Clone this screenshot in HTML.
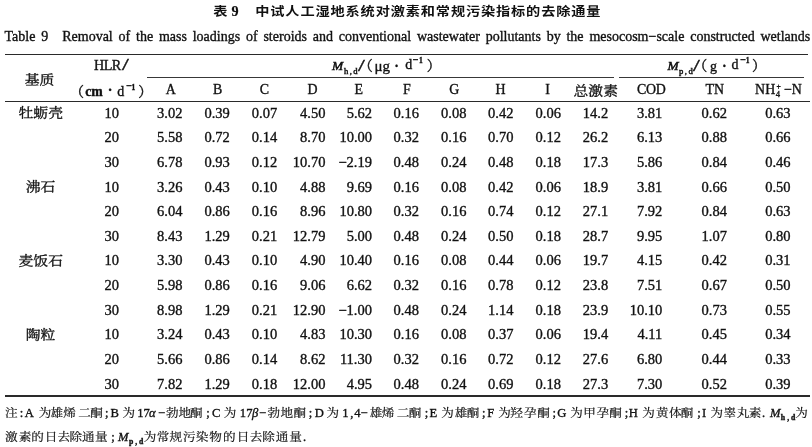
<!DOCTYPE html>
<html><head><meta charset="utf-8"><title>Table 9</title>
<style>
html,body{margin:0;padding:0;background:#fff;}
body{width:812px;height:447px;position:relative;overflow:hidden;color:#111;}
.t{position:absolute;white-space:nowrap;-webkit-text-stroke:0.35px #111;}
.r{position:absolute;}
sub,sup{font-size:62%;line-height:0;position:relative;vertical-align:baseline;}
sub{bottom:-0.35em;}
sup{top:-0.55em;}
</style></head>
<body>
<div class="t" style="left:213.37px;top:2.79px;font-size:14.2px;line-height:17.04px;font-family:'Liberation Serif', 'Noto Sans CJK SC', sans-serif;"><span style="font-family:'Liberation Sans','Noto Sans CJK SC',sans-serif;font-weight:bold;display:inline-block;transform:scaleY(0.86);transform-origin:0 75%;-webkit-text-stroke:0">表</span></div>
<div class="t" style="left:231.44px;top:2.79px;font-size:14.2px;line-height:17.04px;font-family:'Liberation Serif', 'Noto Serif CJK SC', serif;"><b style="-webkit-text-stroke:0.2px #111">9</b></div>
<div class="t" style="left:255.28px;top:2.79px;font-size:14.2px;line-height:17.04px;font-family:'Liberation Serif', 'Noto Sans CJK SC', sans-serif;"><span style="font-family:'Liberation Sans','Noto Sans CJK SC',sans-serif;font-weight:bold;display:inline-block;transform:scaleY(0.86);transform-origin:0 75%;-webkit-text-stroke:0;letter-spacing:0.86px">中试人工湿地系统对激素和常规污染指标的去除通量</span></div>
<div class="t" style="left:4.50px;top:28.58px;width:900px;text-align:left;font-size:14.0px;line-height:16.80px;font-family:'Liberation Serif', 'Noto Serif CJK SC', serif;word-spacing:2.3px">Table 9<span style="display:inline-block;width:14px"></span>Removal of the mass loadings of steroids and conventional wastewater pollutants by the mesocosm&#8722;scale constructed wetlands</div>
<div class="r" style="left:5.3px;top:53.50px;width:802.70px;height:1.4px;background:#2a2a2a"></div>
<div class="r" style="left:147px;top:76.85px;width:467.20px;height:1.5px;background:#383838"></div>
<div class="r" style="left:619.1px;top:76.85px;width:184.90px;height:1.5px;background:#383838"></div>
<div class="r" style="left:5.3px;top:100.60px;width:805.00px;height:1.4px;background:#2a2a2a"></div>
<div class="r" style="left:5.3px;top:395.40px;width:804.70px;height:1.4px;background:#2a2a2a"></div>
<div class="t" style="left:25.02px;top:71.01px;font-size:14.5px;line-height:17.40px;font-family:'Liberation Serif', 'Noto Serif CJK SC', serif;"><span style="display:inline-block;transform:scale(1.02,0.88);transform-origin:50% 62%">基质</span></div>
<div class="t" style="left:93.91px;top:57.09px;font-size:14.2px;line-height:17.04px;font-family:'Liberation Serif', 'Noto Serif CJK SC', serif;letter-spacing:-0.5px">HLR</div>
<div class="t" style="left:122.05px;top:55.22px;font-size:16.4px;line-height:19.68px;font-family:'Liberation Serif', 'Noto Serif CJK SC', serif;"><span style="display:inline-block;transform:scaleX(1.5);transform-origin:0 100%">/</span></div>
<div class="t" style="left:70.02px;top:84.47px;font-size:14px;line-height:16.80px;font-family:'Liberation Serif', 'Noto Serif CJK SC', serif;">（</div>
<div class="t" style="left:85.21px;top:83.86px;font-size:13.8px;line-height:16.56px;font-family:'Liberation Serif', 'Noto Serif CJK SC', serif;"><b>cm</b></div>
<div class="t" style="left:107.65px;top:83.17px;font-size:14px;line-height:16.80px;font-family:'Liberation Serif', 'Noto Serif CJK SC', serif;"><b>·</b></div>
<div class="t" style="left:117.33px;top:83.67px;font-size:14px;line-height:16.80px;font-family:'Liberation Serif', 'Noto Serif CJK SC', serif;">d</div>
<div class="t" style="left:126.32px;top:80.42px;font-size:10px;line-height:12.00px;font-family:'Liberation Serif', 'Noto Serif CJK SC', serif;"><b>−</b></div>
<div class="t" style="left:131.62px;top:82.57px;font-size:7.5px;line-height:9.00px;font-family:'Liberation Serif', 'Noto Serif CJK SC', serif;"><b>1</b></div>
<div class="t" style="left:138.14px;top:84.47px;font-size:14px;line-height:16.80px;font-family:'Liberation Serif', 'Noto Serif CJK SC', serif;">）</div>
<div class="t" style="left:332.03px;top:57.74px;font-size:13.4px;line-height:16.08px;font-family:'Liberation Serif', 'Noto Serif CJK SC', serif;"><i style="-webkit-text-stroke:0.55px #111">M</i></div>
<div class="t" style="left:343.88px;top:66.34px;font-size:8.6px;line-height:10.32px;font-family:'Liberation Serif', 'Noto Serif CJK SC', serif;letter-spacing:1.5px;-webkit-text-stroke:0.45px #111">h,d</div>
<div class="t" style="left:358.05px;top:55.82px;font-size:16.4px;line-height:19.68px;font-family:'Liberation Serif', 'Noto Serif CJK SC', serif;"><span style="display:inline-block;transform:scaleX(1.5);transform-origin:0 100%">/</span></div>
<div class="t" style="left:358.72px;top:58.27px;font-size:14px;line-height:16.80px;font-family:'Liberation Serif', 'Noto Serif CJK SC', serif;">（</div>
<div class="t" style="left:374.40px;top:57.14px;font-size:15px;line-height:18.00px;font-family:'Liberation Serif', 'Noto Serif CJK SC', serif;">μg</div>
<div class="t" style="left:394.15px;top:59.27px;font-size:14px;line-height:16.80px;font-family:'Liberation Serif', 'Noto Serif CJK SC', serif;"><b>·</b></div>
<div class="t" style="left:405.23px;top:57.47px;font-size:14px;line-height:16.80px;font-family:'Liberation Serif', 'Noto Serif CJK SC', serif;">d</div>
<div class="t" style="left:412.82px;top:54.22px;font-size:10px;line-height:12.00px;font-family:'Liberation Serif', 'Noto Serif CJK SC', serif;"><b>−</b></div>
<div class="t" style="left:418.92px;top:56.37px;font-size:7.5px;line-height:9.00px;font-family:'Liberation Serif', 'Noto Serif CJK SC', serif;"><b>1</b></div>
<div class="t" style="left:426.64px;top:58.27px;font-size:14px;line-height:16.80px;font-family:'Liberation Serif', 'Noto Serif CJK SC', serif;">）</div>
<div class="t" style="left:667.43px;top:57.74px;font-size:13.4px;line-height:16.08px;font-family:'Liberation Serif', 'Noto Serif CJK SC', serif;"><i style="-webkit-text-stroke:0.55px #111">M</i></div>
<div class="t" style="left:678.95px;top:66.34px;font-size:8.6px;line-height:10.32px;font-family:'Liberation Serif', 'Noto Serif CJK SC', serif;letter-spacing:1.5px;-webkit-text-stroke:0.45px #111">p,d</div>
<div class="t" style="left:693.05px;top:55.82px;font-size:16.4px;line-height:19.68px;font-family:'Liberation Serif', 'Noto Serif CJK SC', serif;"><span style="display:inline-block;transform:scaleX(1.5);transform-origin:0 100%">/</span></div>
<div class="t" style="left:693.32px;top:58.27px;font-size:14px;line-height:16.80px;font-family:'Liberation Serif', 'Noto Serif CJK SC', serif;">（</div>
<div class="t" style="left:709.96px;top:58.88px;font-size:14px;line-height:16.80px;font-family:'Liberation Serif', 'Noto Serif CJK SC', serif;">g</div>
<div class="t" style="left:722.05px;top:59.27px;font-size:14px;line-height:16.80px;font-family:'Liberation Serif', 'Noto Serif CJK SC', serif;"><b>·</b></div>
<div class="t" style="left:731.43px;top:57.47px;font-size:14px;line-height:16.80px;font-family:'Liberation Serif', 'Noto Serif CJK SC', serif;">d</div>
<div class="t" style="left:740.32px;top:54.22px;font-size:10px;line-height:12.00px;font-family:'Liberation Serif', 'Noto Serif CJK SC', serif;"><b>−</b></div>
<div class="t" style="left:745.72px;top:56.37px;font-size:7.5px;line-height:9.00px;font-family:'Liberation Serif', 'Noto Serif CJK SC', serif;"><b>1</b></div>
<div class="t" style="left:751.94px;top:58.27px;font-size:14px;line-height:16.80px;font-family:'Liberation Serif', 'Noto Serif CJK SC', serif;">）</div>
<div class="t" style="left:165.76px;top:82.27px;font-size:13.9px;line-height:16.68px;font-family:'Liberation Serif', 'Noto Serif CJK SC', serif;">A</div>
<div class="t" style="left:213.00px;top:82.27px;font-size:13.9px;line-height:16.68px;font-family:'Liberation Serif', 'Noto Serif CJK SC', serif;">B</div>
<div class="t" style="left:259.64px;top:82.27px;font-size:13.9px;line-height:16.68px;font-family:'Liberation Serif', 'Noto Serif CJK SC', serif;">C</div>
<div class="t" style="left:307.60px;top:82.27px;font-size:13.9px;line-height:16.68px;font-family:'Liberation Serif', 'Noto Serif CJK SC', serif;">D</div>
<div class="t" style="left:354.60px;top:82.27px;font-size:13.9px;line-height:16.68px;font-family:'Liberation Serif', 'Noto Serif CJK SC', serif;">E</div>
<div class="t" style="left:402.98px;top:82.27px;font-size:13.9px;line-height:16.68px;font-family:'Liberation Serif', 'Noto Serif CJK SC', serif;">F</div>
<div class="t" style="left:449.34px;top:82.27px;font-size:13.9px;line-height:16.68px;font-family:'Liberation Serif', 'Noto Serif CJK SC', serif;">G</div>
<div class="t" style="left:495.61px;top:82.27px;font-size:13.9px;line-height:16.68px;font-family:'Liberation Serif', 'Noto Serif CJK SC', serif;">H</div>
<div class="t" style="left:545.20px;top:82.27px;font-size:13.9px;line-height:16.68px;font-family:'Liberation Serif', 'Noto Serif CJK SC', serif;">I</div>
<div class="t" style="left:573.50px;top:81.51px;font-size:14.5px;line-height:17.40px;font-family:'Liberation Serif', 'Noto Serif CJK SC', serif;"><span style="display:inline-block;transform:scale(1.02,0.88);transform-origin:50% 62%">总激素</span></div>
<div class="t" style="left:637.04px;top:82.27px;font-size:13.9px;line-height:16.68px;font-family:'Liberation Serif', 'Noto Serif CJK SC', serif;letter-spacing:-0.3px">COD</div>
<div class="t" style="left:705.60px;top:82.27px;font-size:13.9px;line-height:16.68px;font-family:'Liberation Serif', 'Noto Serif CJK SC', serif;">TN</div>
<div class="t" style="left:755.10px;top:82.27px;font-size:13.9px;line-height:16.68px;font-family:'Liberation Serif', 'Noto Serif CJK SC', serif;">NH</div>
<div class="t" style="left:775.66px;top:89.04px;font-size:8.6px;line-height:10.32px;font-family:'Liberation Serif', 'Noto Serif CJK SC', serif;">4</div>
<div class="t" style="left:776.44px;top:81.58px;font-size:7.6px;line-height:9.12px;font-family:'Liberation Serif', 'Noto Serif CJK SC', serif;">+</div>
<div class="t" style="left:783.89px;top:82.27px;font-size:13.9px;line-height:16.68px;font-family:'Liberation Serif', 'Noto Serif CJK SC', serif;">−N</div>
<div class="t" style="left:-59.50px;top:104.41px;width:200px;text-align:center;font-size:14.5px;line-height:17.40px;font-family:'Liberation Serif', 'Noto Serif CJK SC', serif;"><span style="display:inline-block;transform:scale(1.02,0.88);transform-origin:50% 62%">牡蛎壳</span></div>
<div class="t" style="left:11.70px;top:104.61px;width:200px;text-align:center;font-size:14.5px;line-height:17.40px;font-family:'Liberation Serif', 'Noto Serif CJK SC', serif;">10</div>
<div class="t" style="left:69.80px;top:104.61px;width:200px;text-align:center;font-size:14.5px;line-height:17.40px;font-family:'Liberation Serif', 'Noto Serif CJK SC', serif;">3.02</div>
<div class="t" style="left:117.10px;top:104.61px;width:200px;text-align:center;font-size:14.5px;line-height:17.40px;font-family:'Liberation Serif', 'Noto Serif CJK SC', serif;">0.39</div>
<div class="t" style="left:164.50px;top:104.61px;width:200px;text-align:center;font-size:14.5px;line-height:17.40px;font-family:'Liberation Serif', 'Noto Serif CJK SC', serif;">0.07</div>
<div class="t" style="left:125.40px;top:104.61px;width:200px;text-align:right;font-size:14.5px;line-height:17.40px;font-family:'Liberation Serif', 'Noto Serif CJK SC', serif;">4.50</div>
<div class="t" style="left:172.00px;top:104.61px;width:200px;text-align:right;font-size:14.5px;line-height:17.40px;font-family:'Liberation Serif', 'Noto Serif CJK SC', serif;">5.62</div>
<div class="t" style="left:306.20px;top:104.61px;width:200px;text-align:center;font-size:14.5px;line-height:17.40px;font-family:'Liberation Serif', 'Noto Serif CJK SC', serif;">0.16</div>
<div class="t" style="left:353.70px;top:104.61px;width:200px;text-align:center;font-size:14.5px;line-height:17.40px;font-family:'Liberation Serif', 'Noto Serif CJK SC', serif;">0.08</div>
<div class="t" style="left:400.70px;top:104.61px;width:200px;text-align:center;font-size:14.5px;line-height:17.40px;font-family:'Liberation Serif', 'Noto Serif CJK SC', serif;">0.42</div>
<div class="t" style="left:448.20px;top:104.61px;width:200px;text-align:center;font-size:14.5px;line-height:17.40px;font-family:'Liberation Serif', 'Noto Serif CJK SC', serif;">0.06</div>
<div class="t" style="left:495.50px;top:104.61px;width:200px;text-align:center;font-size:14.5px;line-height:17.40px;font-family:'Liberation Serif', 'Noto Serif CJK SC', serif;">14.2</div>
<div class="t" style="left:462.30px;top:104.61px;width:200px;text-align:right;font-size:14.5px;line-height:17.40px;font-family:'Liberation Serif', 'Noto Serif CJK SC', serif;">3.81</div>
<div class="t" style="left:614.20px;top:104.61px;width:200px;text-align:center;font-size:14.5px;line-height:17.40px;font-family:'Liberation Serif', 'Noto Serif CJK SC', serif;">0.62</div>
<div class="t" style="left:677.90px;top:104.61px;width:200px;text-align:center;font-size:14.5px;line-height:17.40px;font-family:'Liberation Serif', 'Noto Serif CJK SC', serif;">0.63</div>
<div class="t" style="left:11.70px;top:129.24px;width:200px;text-align:center;font-size:14.5px;line-height:17.40px;font-family:'Liberation Serif', 'Noto Serif CJK SC', serif;">20</div>
<div class="t" style="left:69.80px;top:129.24px;width:200px;text-align:center;font-size:14.5px;line-height:17.40px;font-family:'Liberation Serif', 'Noto Serif CJK SC', serif;">5.58</div>
<div class="t" style="left:117.10px;top:129.24px;width:200px;text-align:center;font-size:14.5px;line-height:17.40px;font-family:'Liberation Serif', 'Noto Serif CJK SC', serif;">0.72</div>
<div class="t" style="left:164.50px;top:129.24px;width:200px;text-align:center;font-size:14.5px;line-height:17.40px;font-family:'Liberation Serif', 'Noto Serif CJK SC', serif;">0.14</div>
<div class="t" style="left:125.40px;top:129.24px;width:200px;text-align:right;font-size:14.5px;line-height:17.40px;font-family:'Liberation Serif', 'Noto Serif CJK SC', serif;">8.70</div>
<div class="t" style="left:172.00px;top:129.24px;width:200px;text-align:right;font-size:14.5px;line-height:17.40px;font-family:'Liberation Serif', 'Noto Serif CJK SC', serif;">10.00</div>
<div class="t" style="left:306.20px;top:129.24px;width:200px;text-align:center;font-size:14.5px;line-height:17.40px;font-family:'Liberation Serif', 'Noto Serif CJK SC', serif;">0.32</div>
<div class="t" style="left:353.70px;top:129.24px;width:200px;text-align:center;font-size:14.5px;line-height:17.40px;font-family:'Liberation Serif', 'Noto Serif CJK SC', serif;">0.16</div>
<div class="t" style="left:400.70px;top:129.24px;width:200px;text-align:center;font-size:14.5px;line-height:17.40px;font-family:'Liberation Serif', 'Noto Serif CJK SC', serif;">0.70</div>
<div class="t" style="left:448.20px;top:129.24px;width:200px;text-align:center;font-size:14.5px;line-height:17.40px;font-family:'Liberation Serif', 'Noto Serif CJK SC', serif;">0.12</div>
<div class="t" style="left:495.50px;top:129.24px;width:200px;text-align:center;font-size:14.5px;line-height:17.40px;font-family:'Liberation Serif', 'Noto Serif CJK SC', serif;">26.2</div>
<div class="t" style="left:462.30px;top:129.24px;width:200px;text-align:right;font-size:14.5px;line-height:17.40px;font-family:'Liberation Serif', 'Noto Serif CJK SC', serif;">6.13</div>
<div class="t" style="left:614.20px;top:129.24px;width:200px;text-align:center;font-size:14.5px;line-height:17.40px;font-family:'Liberation Serif', 'Noto Serif CJK SC', serif;">0.88</div>
<div class="t" style="left:677.90px;top:129.24px;width:200px;text-align:center;font-size:14.5px;line-height:17.40px;font-family:'Liberation Serif', 'Noto Serif CJK SC', serif;">0.66</div>
<div class="t" style="left:11.70px;top:153.87px;width:200px;text-align:center;font-size:14.5px;line-height:17.40px;font-family:'Liberation Serif', 'Noto Serif CJK SC', serif;">30</div>
<div class="t" style="left:69.80px;top:153.87px;width:200px;text-align:center;font-size:14.5px;line-height:17.40px;font-family:'Liberation Serif', 'Noto Serif CJK SC', serif;">6.78</div>
<div class="t" style="left:117.10px;top:153.87px;width:200px;text-align:center;font-size:14.5px;line-height:17.40px;font-family:'Liberation Serif', 'Noto Serif CJK SC', serif;">0.93</div>
<div class="t" style="left:164.50px;top:153.87px;width:200px;text-align:center;font-size:14.5px;line-height:17.40px;font-family:'Liberation Serif', 'Noto Serif CJK SC', serif;">0.12</div>
<div class="t" style="left:125.40px;top:153.87px;width:200px;text-align:right;font-size:14.5px;line-height:17.40px;font-family:'Liberation Serif', 'Noto Serif CJK SC', serif;">10.70</div>
<div class="t" style="left:172.00px;top:153.87px;width:200px;text-align:right;font-size:14.5px;line-height:17.40px;font-family:'Liberation Serif', 'Noto Serif CJK SC', serif;">−2.19</div>
<div class="t" style="left:306.20px;top:153.87px;width:200px;text-align:center;font-size:14.5px;line-height:17.40px;font-family:'Liberation Serif', 'Noto Serif CJK SC', serif;">0.48</div>
<div class="t" style="left:353.70px;top:153.87px;width:200px;text-align:center;font-size:14.5px;line-height:17.40px;font-family:'Liberation Serif', 'Noto Serif CJK SC', serif;">0.24</div>
<div class="t" style="left:400.70px;top:153.87px;width:200px;text-align:center;font-size:14.5px;line-height:17.40px;font-family:'Liberation Serif', 'Noto Serif CJK SC', serif;">0.48</div>
<div class="t" style="left:448.20px;top:153.87px;width:200px;text-align:center;font-size:14.5px;line-height:17.40px;font-family:'Liberation Serif', 'Noto Serif CJK SC', serif;">0.18</div>
<div class="t" style="left:495.50px;top:153.87px;width:200px;text-align:center;font-size:14.5px;line-height:17.40px;font-family:'Liberation Serif', 'Noto Serif CJK SC', serif;">17.3</div>
<div class="t" style="left:462.30px;top:153.87px;width:200px;text-align:right;font-size:14.5px;line-height:17.40px;font-family:'Liberation Serif', 'Noto Serif CJK SC', serif;">5.86</div>
<div class="t" style="left:614.20px;top:153.87px;width:200px;text-align:center;font-size:14.5px;line-height:17.40px;font-family:'Liberation Serif', 'Noto Serif CJK SC', serif;">0.84</div>
<div class="t" style="left:677.90px;top:153.87px;width:200px;text-align:center;font-size:14.5px;line-height:17.40px;font-family:'Liberation Serif', 'Noto Serif CJK SC', serif;">0.46</div>
<div class="t" style="left:-59.50px;top:178.30px;width:200px;text-align:center;font-size:14.5px;line-height:17.40px;font-family:'Liberation Serif', 'Noto Serif CJK SC', serif;"><span style="display:inline-block;transform:scale(1.02,0.88);transform-origin:50% 62%">沸石</span></div>
<div class="t" style="left:11.70px;top:178.50px;width:200px;text-align:center;font-size:14.5px;line-height:17.40px;font-family:'Liberation Serif', 'Noto Serif CJK SC', serif;">10</div>
<div class="t" style="left:69.80px;top:178.50px;width:200px;text-align:center;font-size:14.5px;line-height:17.40px;font-family:'Liberation Serif', 'Noto Serif CJK SC', serif;">3.26</div>
<div class="t" style="left:117.10px;top:178.50px;width:200px;text-align:center;font-size:14.5px;line-height:17.40px;font-family:'Liberation Serif', 'Noto Serif CJK SC', serif;">0.43</div>
<div class="t" style="left:164.50px;top:178.50px;width:200px;text-align:center;font-size:14.5px;line-height:17.40px;font-family:'Liberation Serif', 'Noto Serif CJK SC', serif;">0.10</div>
<div class="t" style="left:125.40px;top:178.50px;width:200px;text-align:right;font-size:14.5px;line-height:17.40px;font-family:'Liberation Serif', 'Noto Serif CJK SC', serif;">4.88</div>
<div class="t" style="left:172.00px;top:178.50px;width:200px;text-align:right;font-size:14.5px;line-height:17.40px;font-family:'Liberation Serif', 'Noto Serif CJK SC', serif;">9.69</div>
<div class="t" style="left:306.20px;top:178.50px;width:200px;text-align:center;font-size:14.5px;line-height:17.40px;font-family:'Liberation Serif', 'Noto Serif CJK SC', serif;">0.16</div>
<div class="t" style="left:353.70px;top:178.50px;width:200px;text-align:center;font-size:14.5px;line-height:17.40px;font-family:'Liberation Serif', 'Noto Serif CJK SC', serif;">0.08</div>
<div class="t" style="left:400.70px;top:178.50px;width:200px;text-align:center;font-size:14.5px;line-height:17.40px;font-family:'Liberation Serif', 'Noto Serif CJK SC', serif;">0.42</div>
<div class="t" style="left:448.20px;top:178.50px;width:200px;text-align:center;font-size:14.5px;line-height:17.40px;font-family:'Liberation Serif', 'Noto Serif CJK SC', serif;">0.06</div>
<div class="t" style="left:495.50px;top:178.50px;width:200px;text-align:center;font-size:14.5px;line-height:17.40px;font-family:'Liberation Serif', 'Noto Serif CJK SC', serif;">18.9</div>
<div class="t" style="left:462.30px;top:178.50px;width:200px;text-align:right;font-size:14.5px;line-height:17.40px;font-family:'Liberation Serif', 'Noto Serif CJK SC', serif;">3.81</div>
<div class="t" style="left:614.20px;top:178.50px;width:200px;text-align:center;font-size:14.5px;line-height:17.40px;font-family:'Liberation Serif', 'Noto Serif CJK SC', serif;">0.66</div>
<div class="t" style="left:677.90px;top:178.50px;width:200px;text-align:center;font-size:14.5px;line-height:17.40px;font-family:'Liberation Serif', 'Noto Serif CJK SC', serif;">0.50</div>
<div class="t" style="left:11.70px;top:203.13px;width:200px;text-align:center;font-size:14.5px;line-height:17.40px;font-family:'Liberation Serif', 'Noto Serif CJK SC', serif;">20</div>
<div class="t" style="left:69.80px;top:203.13px;width:200px;text-align:center;font-size:14.5px;line-height:17.40px;font-family:'Liberation Serif', 'Noto Serif CJK SC', serif;">6.04</div>
<div class="t" style="left:117.10px;top:203.13px;width:200px;text-align:center;font-size:14.5px;line-height:17.40px;font-family:'Liberation Serif', 'Noto Serif CJK SC', serif;">0.86</div>
<div class="t" style="left:164.50px;top:203.13px;width:200px;text-align:center;font-size:14.5px;line-height:17.40px;font-family:'Liberation Serif', 'Noto Serif CJK SC', serif;">0.16</div>
<div class="t" style="left:125.40px;top:203.13px;width:200px;text-align:right;font-size:14.5px;line-height:17.40px;font-family:'Liberation Serif', 'Noto Serif CJK SC', serif;">8.96</div>
<div class="t" style="left:172.00px;top:203.13px;width:200px;text-align:right;font-size:14.5px;line-height:17.40px;font-family:'Liberation Serif', 'Noto Serif CJK SC', serif;">10.80</div>
<div class="t" style="left:306.20px;top:203.13px;width:200px;text-align:center;font-size:14.5px;line-height:17.40px;font-family:'Liberation Serif', 'Noto Serif CJK SC', serif;">0.32</div>
<div class="t" style="left:353.70px;top:203.13px;width:200px;text-align:center;font-size:14.5px;line-height:17.40px;font-family:'Liberation Serif', 'Noto Serif CJK SC', serif;">0.16</div>
<div class="t" style="left:400.70px;top:203.13px;width:200px;text-align:center;font-size:14.5px;line-height:17.40px;font-family:'Liberation Serif', 'Noto Serif CJK SC', serif;">0.74</div>
<div class="t" style="left:448.20px;top:203.13px;width:200px;text-align:center;font-size:14.5px;line-height:17.40px;font-family:'Liberation Serif', 'Noto Serif CJK SC', serif;">0.12</div>
<div class="t" style="left:495.50px;top:203.13px;width:200px;text-align:center;font-size:14.5px;line-height:17.40px;font-family:'Liberation Serif', 'Noto Serif CJK SC', serif;">27.1</div>
<div class="t" style="left:462.30px;top:203.13px;width:200px;text-align:right;font-size:14.5px;line-height:17.40px;font-family:'Liberation Serif', 'Noto Serif CJK SC', serif;">7.92</div>
<div class="t" style="left:614.20px;top:203.13px;width:200px;text-align:center;font-size:14.5px;line-height:17.40px;font-family:'Liberation Serif', 'Noto Serif CJK SC', serif;">0.84</div>
<div class="t" style="left:677.90px;top:203.13px;width:200px;text-align:center;font-size:14.5px;line-height:17.40px;font-family:'Liberation Serif', 'Noto Serif CJK SC', serif;">0.63</div>
<div class="t" style="left:11.70px;top:227.76px;width:200px;text-align:center;font-size:14.5px;line-height:17.40px;font-family:'Liberation Serif', 'Noto Serif CJK SC', serif;">30</div>
<div class="t" style="left:69.80px;top:227.76px;width:200px;text-align:center;font-size:14.5px;line-height:17.40px;font-family:'Liberation Serif', 'Noto Serif CJK SC', serif;">8.43</div>
<div class="t" style="left:117.10px;top:227.76px;width:200px;text-align:center;font-size:14.5px;line-height:17.40px;font-family:'Liberation Serif', 'Noto Serif CJK SC', serif;">1.29</div>
<div class="t" style="left:164.50px;top:227.76px;width:200px;text-align:center;font-size:14.5px;line-height:17.40px;font-family:'Liberation Serif', 'Noto Serif CJK SC', serif;">0.21</div>
<div class="t" style="left:125.40px;top:227.76px;width:200px;text-align:right;font-size:14.5px;line-height:17.40px;font-family:'Liberation Serif', 'Noto Serif CJK SC', serif;">12.79</div>
<div class="t" style="left:172.00px;top:227.76px;width:200px;text-align:right;font-size:14.5px;line-height:17.40px;font-family:'Liberation Serif', 'Noto Serif CJK SC', serif;">5.00</div>
<div class="t" style="left:306.20px;top:227.76px;width:200px;text-align:center;font-size:14.5px;line-height:17.40px;font-family:'Liberation Serif', 'Noto Serif CJK SC', serif;">0.48</div>
<div class="t" style="left:353.70px;top:227.76px;width:200px;text-align:center;font-size:14.5px;line-height:17.40px;font-family:'Liberation Serif', 'Noto Serif CJK SC', serif;">0.24</div>
<div class="t" style="left:400.70px;top:227.76px;width:200px;text-align:center;font-size:14.5px;line-height:17.40px;font-family:'Liberation Serif', 'Noto Serif CJK SC', serif;">0.50</div>
<div class="t" style="left:448.20px;top:227.76px;width:200px;text-align:center;font-size:14.5px;line-height:17.40px;font-family:'Liberation Serif', 'Noto Serif CJK SC', serif;">0.18</div>
<div class="t" style="left:495.50px;top:227.76px;width:200px;text-align:center;font-size:14.5px;line-height:17.40px;font-family:'Liberation Serif', 'Noto Serif CJK SC', serif;">28.7</div>
<div class="t" style="left:462.30px;top:227.76px;width:200px;text-align:right;font-size:14.5px;line-height:17.40px;font-family:'Liberation Serif', 'Noto Serif CJK SC', serif;">9.95</div>
<div class="t" style="left:614.20px;top:227.76px;width:200px;text-align:center;font-size:14.5px;line-height:17.40px;font-family:'Liberation Serif', 'Noto Serif CJK SC', serif;">1.07</div>
<div class="t" style="left:677.90px;top:227.76px;width:200px;text-align:center;font-size:14.5px;line-height:17.40px;font-family:'Liberation Serif', 'Noto Serif CJK SC', serif;">0.80</div>
<div class="t" style="left:-59.50px;top:252.19px;width:200px;text-align:center;font-size:14.5px;line-height:17.40px;font-family:'Liberation Serif', 'Noto Serif CJK SC', serif;"><span style="display:inline-block;transform:scale(1.02,0.88);transform-origin:50% 62%">麦饭石</span></div>
<div class="t" style="left:11.70px;top:252.39px;width:200px;text-align:center;font-size:14.5px;line-height:17.40px;font-family:'Liberation Serif', 'Noto Serif CJK SC', serif;">10</div>
<div class="t" style="left:69.80px;top:252.39px;width:200px;text-align:center;font-size:14.5px;line-height:17.40px;font-family:'Liberation Serif', 'Noto Serif CJK SC', serif;">3.30</div>
<div class="t" style="left:117.10px;top:252.39px;width:200px;text-align:center;font-size:14.5px;line-height:17.40px;font-family:'Liberation Serif', 'Noto Serif CJK SC', serif;">0.43</div>
<div class="t" style="left:164.50px;top:252.39px;width:200px;text-align:center;font-size:14.5px;line-height:17.40px;font-family:'Liberation Serif', 'Noto Serif CJK SC', serif;">0.10</div>
<div class="t" style="left:125.40px;top:252.39px;width:200px;text-align:right;font-size:14.5px;line-height:17.40px;font-family:'Liberation Serif', 'Noto Serif CJK SC', serif;">4.90</div>
<div class="t" style="left:172.00px;top:252.39px;width:200px;text-align:right;font-size:14.5px;line-height:17.40px;font-family:'Liberation Serif', 'Noto Serif CJK SC', serif;">10.40</div>
<div class="t" style="left:306.20px;top:252.39px;width:200px;text-align:center;font-size:14.5px;line-height:17.40px;font-family:'Liberation Serif', 'Noto Serif CJK SC', serif;">0.16</div>
<div class="t" style="left:353.70px;top:252.39px;width:200px;text-align:center;font-size:14.5px;line-height:17.40px;font-family:'Liberation Serif', 'Noto Serif CJK SC', serif;">0.08</div>
<div class="t" style="left:400.70px;top:252.39px;width:200px;text-align:center;font-size:14.5px;line-height:17.40px;font-family:'Liberation Serif', 'Noto Serif CJK SC', serif;">0.44</div>
<div class="t" style="left:448.20px;top:252.39px;width:200px;text-align:center;font-size:14.5px;line-height:17.40px;font-family:'Liberation Serif', 'Noto Serif CJK SC', serif;">0.06</div>
<div class="t" style="left:495.50px;top:252.39px;width:200px;text-align:center;font-size:14.5px;line-height:17.40px;font-family:'Liberation Serif', 'Noto Serif CJK SC', serif;">19.7</div>
<div class="t" style="left:462.30px;top:252.39px;width:200px;text-align:right;font-size:14.5px;line-height:17.40px;font-family:'Liberation Serif', 'Noto Serif CJK SC', serif;">4.15</div>
<div class="t" style="left:614.20px;top:252.39px;width:200px;text-align:center;font-size:14.5px;line-height:17.40px;font-family:'Liberation Serif', 'Noto Serif CJK SC', serif;">0.42</div>
<div class="t" style="left:677.90px;top:252.39px;width:200px;text-align:center;font-size:14.5px;line-height:17.40px;font-family:'Liberation Serif', 'Noto Serif CJK SC', serif;">0.31</div>
<div class="t" style="left:11.70px;top:277.02px;width:200px;text-align:center;font-size:14.5px;line-height:17.40px;font-family:'Liberation Serif', 'Noto Serif CJK SC', serif;">20</div>
<div class="t" style="left:69.80px;top:277.02px;width:200px;text-align:center;font-size:14.5px;line-height:17.40px;font-family:'Liberation Serif', 'Noto Serif CJK SC', serif;">5.98</div>
<div class="t" style="left:117.10px;top:277.02px;width:200px;text-align:center;font-size:14.5px;line-height:17.40px;font-family:'Liberation Serif', 'Noto Serif CJK SC', serif;">0.86</div>
<div class="t" style="left:164.50px;top:277.02px;width:200px;text-align:center;font-size:14.5px;line-height:17.40px;font-family:'Liberation Serif', 'Noto Serif CJK SC', serif;">0.16</div>
<div class="t" style="left:125.40px;top:277.02px;width:200px;text-align:right;font-size:14.5px;line-height:17.40px;font-family:'Liberation Serif', 'Noto Serif CJK SC', serif;">9.06</div>
<div class="t" style="left:172.00px;top:277.02px;width:200px;text-align:right;font-size:14.5px;line-height:17.40px;font-family:'Liberation Serif', 'Noto Serif CJK SC', serif;">6.62</div>
<div class="t" style="left:306.20px;top:277.02px;width:200px;text-align:center;font-size:14.5px;line-height:17.40px;font-family:'Liberation Serif', 'Noto Serif CJK SC', serif;">0.32</div>
<div class="t" style="left:353.70px;top:277.02px;width:200px;text-align:center;font-size:14.5px;line-height:17.40px;font-family:'Liberation Serif', 'Noto Serif CJK SC', serif;">0.16</div>
<div class="t" style="left:400.70px;top:277.02px;width:200px;text-align:center;font-size:14.5px;line-height:17.40px;font-family:'Liberation Serif', 'Noto Serif CJK SC', serif;">0.78</div>
<div class="t" style="left:448.20px;top:277.02px;width:200px;text-align:center;font-size:14.5px;line-height:17.40px;font-family:'Liberation Serif', 'Noto Serif CJK SC', serif;">0.12</div>
<div class="t" style="left:495.50px;top:277.02px;width:200px;text-align:center;font-size:14.5px;line-height:17.40px;font-family:'Liberation Serif', 'Noto Serif CJK SC', serif;">23.8</div>
<div class="t" style="left:462.30px;top:277.02px;width:200px;text-align:right;font-size:14.5px;line-height:17.40px;font-family:'Liberation Serif', 'Noto Serif CJK SC', serif;">7.51</div>
<div class="t" style="left:614.20px;top:277.02px;width:200px;text-align:center;font-size:14.5px;line-height:17.40px;font-family:'Liberation Serif', 'Noto Serif CJK SC', serif;">0.67</div>
<div class="t" style="left:677.90px;top:277.02px;width:200px;text-align:center;font-size:14.5px;line-height:17.40px;font-family:'Liberation Serif', 'Noto Serif CJK SC', serif;">0.50</div>
<div class="t" style="left:11.70px;top:301.65px;width:200px;text-align:center;font-size:14.5px;line-height:17.40px;font-family:'Liberation Serif', 'Noto Serif CJK SC', serif;">30</div>
<div class="t" style="left:69.80px;top:301.65px;width:200px;text-align:center;font-size:14.5px;line-height:17.40px;font-family:'Liberation Serif', 'Noto Serif CJK SC', serif;">8.98</div>
<div class="t" style="left:117.10px;top:301.65px;width:200px;text-align:center;font-size:14.5px;line-height:17.40px;font-family:'Liberation Serif', 'Noto Serif CJK SC', serif;">1.29</div>
<div class="t" style="left:164.50px;top:301.65px;width:200px;text-align:center;font-size:14.5px;line-height:17.40px;font-family:'Liberation Serif', 'Noto Serif CJK SC', serif;">0.21</div>
<div class="t" style="left:125.40px;top:301.65px;width:200px;text-align:right;font-size:14.5px;line-height:17.40px;font-family:'Liberation Serif', 'Noto Serif CJK SC', serif;">12.90</div>
<div class="t" style="left:172.00px;top:301.65px;width:200px;text-align:right;font-size:14.5px;line-height:17.40px;font-family:'Liberation Serif', 'Noto Serif CJK SC', serif;">−1.00</div>
<div class="t" style="left:306.20px;top:301.65px;width:200px;text-align:center;font-size:14.5px;line-height:17.40px;font-family:'Liberation Serif', 'Noto Serif CJK SC', serif;">0.48</div>
<div class="t" style="left:353.70px;top:301.65px;width:200px;text-align:center;font-size:14.5px;line-height:17.40px;font-family:'Liberation Serif', 'Noto Serif CJK SC', serif;">0.24</div>
<div class="t" style="left:400.70px;top:301.65px;width:200px;text-align:center;font-size:14.5px;line-height:17.40px;font-family:'Liberation Serif', 'Noto Serif CJK SC', serif;">1.14</div>
<div class="t" style="left:448.20px;top:301.65px;width:200px;text-align:center;font-size:14.5px;line-height:17.40px;font-family:'Liberation Serif', 'Noto Serif CJK SC', serif;">0.18</div>
<div class="t" style="left:495.50px;top:301.65px;width:200px;text-align:center;font-size:14.5px;line-height:17.40px;font-family:'Liberation Serif', 'Noto Serif CJK SC', serif;">23.9</div>
<div class="t" style="left:462.30px;top:301.65px;width:200px;text-align:right;font-size:14.5px;line-height:17.40px;font-family:'Liberation Serif', 'Noto Serif CJK SC', serif;">10.10</div>
<div class="t" style="left:614.20px;top:301.65px;width:200px;text-align:center;font-size:14.5px;line-height:17.40px;font-family:'Liberation Serif', 'Noto Serif CJK SC', serif;">0.73</div>
<div class="t" style="left:677.90px;top:301.65px;width:200px;text-align:center;font-size:14.5px;line-height:17.40px;font-family:'Liberation Serif', 'Noto Serif CJK SC', serif;">0.55</div>
<div class="t" style="left:-59.50px;top:326.08px;width:200px;text-align:center;font-size:14.5px;line-height:17.40px;font-family:'Liberation Serif', 'Noto Serif CJK SC', serif;"><span style="display:inline-block;transform:scale(1.02,0.88);transform-origin:50% 62%">陶粒</span></div>
<div class="t" style="left:11.70px;top:326.28px;width:200px;text-align:center;font-size:14.5px;line-height:17.40px;font-family:'Liberation Serif', 'Noto Serif CJK SC', serif;">10</div>
<div class="t" style="left:69.80px;top:326.28px;width:200px;text-align:center;font-size:14.5px;line-height:17.40px;font-family:'Liberation Serif', 'Noto Serif CJK SC', serif;">3.24</div>
<div class="t" style="left:117.10px;top:326.28px;width:200px;text-align:center;font-size:14.5px;line-height:17.40px;font-family:'Liberation Serif', 'Noto Serif CJK SC', serif;">0.43</div>
<div class="t" style="left:164.50px;top:326.28px;width:200px;text-align:center;font-size:14.5px;line-height:17.40px;font-family:'Liberation Serif', 'Noto Serif CJK SC', serif;">0.10</div>
<div class="t" style="left:125.40px;top:326.28px;width:200px;text-align:right;font-size:14.5px;line-height:17.40px;font-family:'Liberation Serif', 'Noto Serif CJK SC', serif;">4.83</div>
<div class="t" style="left:172.00px;top:326.28px;width:200px;text-align:right;font-size:14.5px;line-height:17.40px;font-family:'Liberation Serif', 'Noto Serif CJK SC', serif;">10.30</div>
<div class="t" style="left:306.20px;top:326.28px;width:200px;text-align:center;font-size:14.5px;line-height:17.40px;font-family:'Liberation Serif', 'Noto Serif CJK SC', serif;">0.16</div>
<div class="t" style="left:353.70px;top:326.28px;width:200px;text-align:center;font-size:14.5px;line-height:17.40px;font-family:'Liberation Serif', 'Noto Serif CJK SC', serif;">0.08</div>
<div class="t" style="left:400.70px;top:326.28px;width:200px;text-align:center;font-size:14.5px;line-height:17.40px;font-family:'Liberation Serif', 'Noto Serif CJK SC', serif;">0.37</div>
<div class="t" style="left:448.20px;top:326.28px;width:200px;text-align:center;font-size:14.5px;line-height:17.40px;font-family:'Liberation Serif', 'Noto Serif CJK SC', serif;">0.06</div>
<div class="t" style="left:495.50px;top:326.28px;width:200px;text-align:center;font-size:14.5px;line-height:17.40px;font-family:'Liberation Serif', 'Noto Serif CJK SC', serif;">19.4</div>
<div class="t" style="left:462.30px;top:326.28px;width:200px;text-align:right;font-size:14.5px;line-height:17.40px;font-family:'Liberation Serif', 'Noto Serif CJK SC', serif;">4.11</div>
<div class="t" style="left:614.20px;top:326.28px;width:200px;text-align:center;font-size:14.5px;line-height:17.40px;font-family:'Liberation Serif', 'Noto Serif CJK SC', serif;">0.45</div>
<div class="t" style="left:677.90px;top:326.28px;width:200px;text-align:center;font-size:14.5px;line-height:17.40px;font-family:'Liberation Serif', 'Noto Serif CJK SC', serif;">0.34</div>
<div class="t" style="left:11.70px;top:350.91px;width:200px;text-align:center;font-size:14.5px;line-height:17.40px;font-family:'Liberation Serif', 'Noto Serif CJK SC', serif;">20</div>
<div class="t" style="left:69.80px;top:350.91px;width:200px;text-align:center;font-size:14.5px;line-height:17.40px;font-family:'Liberation Serif', 'Noto Serif CJK SC', serif;">5.66</div>
<div class="t" style="left:117.10px;top:350.91px;width:200px;text-align:center;font-size:14.5px;line-height:17.40px;font-family:'Liberation Serif', 'Noto Serif CJK SC', serif;">0.86</div>
<div class="t" style="left:164.50px;top:350.91px;width:200px;text-align:center;font-size:14.5px;line-height:17.40px;font-family:'Liberation Serif', 'Noto Serif CJK SC', serif;">0.14</div>
<div class="t" style="left:125.40px;top:350.91px;width:200px;text-align:right;font-size:14.5px;line-height:17.40px;font-family:'Liberation Serif', 'Noto Serif CJK SC', serif;">8.62</div>
<div class="t" style="left:172.00px;top:350.91px;width:200px;text-align:right;font-size:14.5px;line-height:17.40px;font-family:'Liberation Serif', 'Noto Serif CJK SC', serif;">11.30</div>
<div class="t" style="left:306.20px;top:350.91px;width:200px;text-align:center;font-size:14.5px;line-height:17.40px;font-family:'Liberation Serif', 'Noto Serif CJK SC', serif;">0.32</div>
<div class="t" style="left:353.70px;top:350.91px;width:200px;text-align:center;font-size:14.5px;line-height:17.40px;font-family:'Liberation Serif', 'Noto Serif CJK SC', serif;">0.16</div>
<div class="t" style="left:400.70px;top:350.91px;width:200px;text-align:center;font-size:14.5px;line-height:17.40px;font-family:'Liberation Serif', 'Noto Serif CJK SC', serif;">0.72</div>
<div class="t" style="left:448.20px;top:350.91px;width:200px;text-align:center;font-size:14.5px;line-height:17.40px;font-family:'Liberation Serif', 'Noto Serif CJK SC', serif;">0.12</div>
<div class="t" style="left:495.50px;top:350.91px;width:200px;text-align:center;font-size:14.5px;line-height:17.40px;font-family:'Liberation Serif', 'Noto Serif CJK SC', serif;">27.6</div>
<div class="t" style="left:462.30px;top:350.91px;width:200px;text-align:right;font-size:14.5px;line-height:17.40px;font-family:'Liberation Serif', 'Noto Serif CJK SC', serif;">6.80</div>
<div class="t" style="left:614.20px;top:350.91px;width:200px;text-align:center;font-size:14.5px;line-height:17.40px;font-family:'Liberation Serif', 'Noto Serif CJK SC', serif;">0.44</div>
<div class="t" style="left:677.90px;top:350.91px;width:200px;text-align:center;font-size:14.5px;line-height:17.40px;font-family:'Liberation Serif', 'Noto Serif CJK SC', serif;">0.33</div>
<div class="t" style="left:11.70px;top:375.54px;width:200px;text-align:center;font-size:14.5px;line-height:17.40px;font-family:'Liberation Serif', 'Noto Serif CJK SC', serif;">30</div>
<div class="t" style="left:69.80px;top:375.54px;width:200px;text-align:center;font-size:14.5px;line-height:17.40px;font-family:'Liberation Serif', 'Noto Serif CJK SC', serif;">7.82</div>
<div class="t" style="left:117.10px;top:375.54px;width:200px;text-align:center;font-size:14.5px;line-height:17.40px;font-family:'Liberation Serif', 'Noto Serif CJK SC', serif;">1.29</div>
<div class="t" style="left:164.50px;top:375.54px;width:200px;text-align:center;font-size:14.5px;line-height:17.40px;font-family:'Liberation Serif', 'Noto Serif CJK SC', serif;">0.18</div>
<div class="t" style="left:125.40px;top:375.54px;width:200px;text-align:right;font-size:14.5px;line-height:17.40px;font-family:'Liberation Serif', 'Noto Serif CJK SC', serif;">12.00</div>
<div class="t" style="left:172.00px;top:375.54px;width:200px;text-align:right;font-size:14.5px;line-height:17.40px;font-family:'Liberation Serif', 'Noto Serif CJK SC', serif;">4.95</div>
<div class="t" style="left:306.20px;top:375.54px;width:200px;text-align:center;font-size:14.5px;line-height:17.40px;font-family:'Liberation Serif', 'Noto Serif CJK SC', serif;">0.48</div>
<div class="t" style="left:353.70px;top:375.54px;width:200px;text-align:center;font-size:14.5px;line-height:17.40px;font-family:'Liberation Serif', 'Noto Serif CJK SC', serif;">0.24</div>
<div class="t" style="left:400.70px;top:375.54px;width:200px;text-align:center;font-size:14.5px;line-height:17.40px;font-family:'Liberation Serif', 'Noto Serif CJK SC', serif;">0.69</div>
<div class="t" style="left:448.20px;top:375.54px;width:200px;text-align:center;font-size:14.5px;line-height:17.40px;font-family:'Liberation Serif', 'Noto Serif CJK SC', serif;">0.18</div>
<div class="t" style="left:495.50px;top:375.54px;width:200px;text-align:center;font-size:14.5px;line-height:17.40px;font-family:'Liberation Serif', 'Noto Serif CJK SC', serif;">27.3</div>
<div class="t" style="left:462.30px;top:375.54px;width:200px;text-align:right;font-size:14.5px;line-height:17.40px;font-family:'Liberation Serif', 'Noto Serif CJK SC', serif;">7.30</div>
<div class="t" style="left:614.20px;top:375.54px;width:200px;text-align:center;font-size:14.5px;line-height:17.40px;font-family:'Liberation Serif', 'Noto Serif CJK SC', serif;">0.52</div>
<div class="t" style="left:677.90px;top:375.54px;width:200px;text-align:center;font-size:14.5px;line-height:17.40px;font-family:'Liberation Serif', 'Noto Serif CJK SC', serif;">0.39</div>
<div class="t" style="left:5.01px;top:406.29px;font-size:12.6px;line-height:15.12px;font-family:'Liberation Serif', 'Noto Serif CJK SC', serif;"><span style="display:inline-block;transform:scaleY(0.9);transform-origin:50% 60%;-webkit-text-stroke:0.2px #111">注</span></div>
<div class="t" style="left:19.78px;top:406.29px;font-size:12.6px;line-height:15.12px;font-family:'Liberation Serif', 'Noto Serif CJK SC', serif;">:</div>
<div class="t" style="left:24.87px;top:406.29px;font-size:12.6px;line-height:15.12px;font-family:'Liberation Serif', 'Noto Serif CJK SC', serif;">A</div>
<div class="t" style="left:38.81px;top:406.29px;font-size:12.6px;line-height:15.12px;font-family:'Liberation Serif', 'Noto Serif CJK SC', serif;"><span style="display:inline-block;transform:scaleY(0.9);transform-origin:50% 60%;-webkit-text-stroke:0.2px #111">为</span></div>
<div class="t" style="left:50.57px;top:406.29px;font-size:12.6px;line-height:15.12px;font-family:'Liberation Serif', 'Noto Serif CJK SC', serif;"><span style="display:inline-block;transform:scaleY(0.9);transform-origin:50% 60%;-webkit-text-stroke:0.2px #111">雄</span></div>
<div class="t" style="left:63.34px;top:406.29px;font-size:12.6px;line-height:15.12px;font-family:'Liberation Serif', 'Noto Serif CJK SC', serif;"><span style="display:inline-block;transform:scaleY(0.9);transform-origin:50% 60%;-webkit-text-stroke:0.2px #111">烯</span></div>
<div class="t" style="left:78.17px;top:406.29px;font-size:12.6px;line-height:15.12px;font-family:'Liberation Serif', 'Noto Serif CJK SC', serif;"><span style="display:inline-block;transform:scaleY(0.9);transform-origin:50% 60%;-webkit-text-stroke:0.2px #111">二</span></div>
<div class="t" style="left:90.33px;top:406.29px;font-size:12.6px;line-height:15.12px;font-family:'Liberation Serif', 'Noto Serif CJK SC', serif;"><span style="display:inline-block;transform:scaleY(0.9);transform-origin:50% 60%;-webkit-text-stroke:0.2px #111">酮</span></div>
<div class="t" style="left:105.10px;top:406.29px;font-size:12.6px;line-height:15.12px;font-family:'Liberation Serif', 'Noto Serif CJK SC', serif;">;</div>
<div class="t" style="left:110.53px;top:406.29px;font-size:12.6px;line-height:15.12px;font-family:'Liberation Serif', 'Noto Serif CJK SC', serif;">B</div>
<div class="t" style="left:122.51px;top:406.29px;font-size:12.6px;line-height:15.12px;font-family:'Liberation Serif', 'Noto Serif CJK SC', serif;"><span style="display:inline-block;transform:scaleY(0.9);transform-origin:50% 60%;-webkit-text-stroke:0.2px #111">为</span></div>
<div class="t" style="left:137.25px;top:406.29px;font-size:12.6px;line-height:15.12px;font-family:'Liberation Serif', 'Noto Serif CJK SC', serif;">17</div>
<div class="t" style="left:148.90px;top:406.29px;font-size:12.6px;line-height:15.12px;font-family:'Liberation Serif', 'Noto Serif CJK SC', serif;"><i>α</i></div>
<div class="t" style="left:157.98px;top:406.29px;font-size:12.6px;line-height:15.12px;font-family:'Liberation Serif', 'Noto Serif CJK SC', serif;">−</div>
<div class="t" style="left:165.89px;top:406.29px;font-size:12.6px;line-height:15.12px;font-family:'Liberation Serif', 'Noto Serif CJK SC', serif;"><span style="display:inline-block;transform:scaleY(0.9);transform-origin:50% 60%;-webkit-text-stroke:0.2px #111">勃</span></div>
<div class="t" style="left:178.41px;top:406.29px;font-size:12.6px;line-height:15.12px;font-family:'Liberation Serif', 'Noto Serif CJK SC', serif;"><span style="display:inline-block;transform:scaleY(0.9);transform-origin:50% 60%;-webkit-text-stroke:0.2px #111">地</span></div>
<div class="t" style="left:190.03px;top:406.29px;font-size:12.6px;line-height:15.12px;font-family:'Liberation Serif', 'Noto Serif CJK SC', serif;"><span style="display:inline-block;transform:scaleY(0.9);transform-origin:50% 60%;-webkit-text-stroke:0.2px #111">酮</span></div>
<div class="t" style="left:206.20px;top:406.29px;font-size:12.6px;line-height:15.12px;font-family:'Liberation Serif', 'Noto Serif CJK SC', serif;">;</div>
<div class="t" style="left:211.91px;top:406.29px;font-size:12.6px;line-height:15.12px;font-family:'Liberation Serif', 'Noto Serif CJK SC', serif;">C</div>
<div class="t" style="left:223.71px;top:406.29px;font-size:12.6px;line-height:15.12px;font-family:'Liberation Serif', 'Noto Serif CJK SC', serif;"><span style="display:inline-block;transform:scaleY(0.9);transform-origin:50% 60%;-webkit-text-stroke:0.2px #111">为</span></div>
<div class="t" style="left:239.85px;top:406.29px;font-size:12.6px;line-height:15.12px;font-family:'Liberation Serif', 'Noto Serif CJK SC', serif;">17</div>
<div class="t" style="left:252.11px;top:406.29px;font-size:12.6px;line-height:15.12px;font-family:'Liberation Serif', 'Noto Serif CJK SC', serif;"><i>β</i></div>
<div class="t" style="left:258.98px;top:406.29px;font-size:12.6px;line-height:15.12px;font-family:'Liberation Serif', 'Noto Serif CJK SC', serif;">−</div>
<div class="t" style="left:267.59px;top:406.29px;font-size:12.6px;line-height:15.12px;font-family:'Liberation Serif', 'Noto Serif CJK SC', serif;"><span style="display:inline-block;transform:scaleY(0.9);transform-origin:50% 60%;-webkit-text-stroke:0.2px #111">勃</span></div>
<div class="t" style="left:280.61px;top:406.29px;font-size:12.6px;line-height:15.12px;font-family:'Liberation Serif', 'Noto Serif CJK SC', serif;"><span style="display:inline-block;transform:scaleY(0.9);transform-origin:50% 60%;-webkit-text-stroke:0.2px #111">地</span></div>
<div class="t" style="left:293.53px;top:406.29px;font-size:12.6px;line-height:15.12px;font-family:'Liberation Serif', 'Noto Serif CJK SC', serif;"><span style="display:inline-block;transform:scaleY(0.9);transform-origin:50% 60%;-webkit-text-stroke:0.2px #111">酮</span></div>
<div class="t" style="left:308.70px;top:406.29px;font-size:12.6px;line-height:15.12px;font-family:'Liberation Serif', 'Noto Serif CJK SC', serif;">;</div>
<div class="t" style="left:314.83px;top:406.29px;font-size:12.6px;line-height:15.12px;font-family:'Liberation Serif', 'Noto Serif CJK SC', serif;">D</div>
<div class="t" style="left:326.41px;top:406.29px;font-size:12.6px;line-height:15.12px;font-family:'Liberation Serif', 'Noto Serif CJK SC', serif;"><span style="display:inline-block;transform:scaleY(0.9);transform-origin:50% 60%;-webkit-text-stroke:0.2px #111">为</span></div>
<div class="t" style="left:342.35px;top:406.29px;font-size:12.6px;line-height:15.12px;font-family:'Liberation Serif', 'Noto Serif CJK SC', serif;">1</div>
<div class="t" style="left:350.19px;top:406.29px;font-size:12.6px;line-height:15.12px;font-family:'Liberation Serif', 'Noto Serif CJK SC', serif;">,</div>
<div class="t" style="left:354.18px;top:406.29px;font-size:12.6px;line-height:15.12px;font-family:'Liberation Serif', 'Noto Serif CJK SC', serif;">4</div>
<div class="t" style="left:360.38px;top:406.29px;font-size:12.6px;line-height:15.12px;font-family:'Liberation Serif', 'Noto Serif CJK SC', serif;">−</div>
<div class="t" style="left:369.77px;top:406.29px;font-size:12.6px;line-height:15.12px;font-family:'Liberation Serif', 'Noto Serif CJK SC', serif;"><span style="display:inline-block;transform:scaleY(0.9);transform-origin:50% 60%;-webkit-text-stroke:0.2px #111">雄</span></div>
<div class="t" style="left:381.84px;top:406.29px;font-size:12.6px;line-height:15.12px;font-family:'Liberation Serif', 'Noto Serif CJK SC', serif;"><span style="display:inline-block;transform:scaleY(0.9);transform-origin:50% 60%;-webkit-text-stroke:0.2px #111">烯</span></div>
<div class="t" style="left:396.67px;top:406.29px;font-size:12.6px;line-height:15.12px;font-family:'Liberation Serif', 'Noto Serif CJK SC', serif;"><span style="display:inline-block;transform:scaleY(0.9);transform-origin:50% 60%;-webkit-text-stroke:0.2px #111">二</span></div>
<div class="t" style="left:408.73px;top:406.29px;font-size:12.6px;line-height:15.12px;font-family:'Liberation Serif', 'Noto Serif CJK SC', serif;"><span style="display:inline-block;transform:scaleY(0.9);transform-origin:50% 60%;-webkit-text-stroke:0.2px #111">酮</span></div>
<div class="t" style="left:424.80px;top:406.29px;font-size:12.6px;line-height:15.12px;font-family:'Liberation Serif', 'Noto Serif CJK SC', serif;">;</div>
<div class="t" style="left:429.53px;top:406.29px;font-size:12.6px;line-height:15.12px;font-family:'Liberation Serif', 'Noto Serif CJK SC', serif;">E</div>
<div class="t" style="left:441.21px;top:406.29px;font-size:12.6px;line-height:15.12px;font-family:'Liberation Serif', 'Noto Serif CJK SC', serif;"><span style="display:inline-block;transform:scaleY(0.9);transform-origin:50% 60%;-webkit-text-stroke:0.2px #111">为</span></div>
<div class="t" style="left:454.87px;top:406.29px;font-size:12.6px;line-height:15.12px;font-family:'Liberation Serif', 'Noto Serif CJK SC', serif;"><span style="display:inline-block;transform:scaleY(0.9);transform-origin:50% 60%;-webkit-text-stroke:0.2px #111">雄</span></div>
<div class="t" style="left:466.73px;top:406.29px;font-size:12.6px;line-height:15.12px;font-family:'Liberation Serif', 'Noto Serif CJK SC', serif;"><span style="display:inline-block;transform:scaleY(0.9);transform-origin:50% 60%;-webkit-text-stroke:0.2px #111">酮</span></div>
<div class="t" style="left:482.10px;top:406.29px;font-size:12.6px;line-height:15.12px;font-family:'Liberation Serif', 'Noto Serif CJK SC', serif;">;</div>
<div class="t" style="left:487.32px;top:406.29px;font-size:12.6px;line-height:15.12px;font-family:'Liberation Serif', 'Noto Serif CJK SC', serif;">F</div>
<div class="t" style="left:498.31px;top:406.29px;font-size:12.6px;line-height:15.12px;font-family:'Liberation Serif', 'Noto Serif CJK SC', serif;"><span style="display:inline-block;transform:scaleY(0.9);transform-origin:50% 60%;-webkit-text-stroke:0.2px #111">为</span></div>
<div class="t" style="left:510.36px;top:406.29px;font-size:12.6px;line-height:15.12px;font-family:'Liberation Serif', 'Noto Serif CJK SC', serif;"><span style="display:inline-block;transform:scaleY(0.9);transform-origin:50% 60%;-webkit-text-stroke:0.2px #111">羟</span></div>
<div class="t" style="left:523.91px;top:406.29px;font-size:12.6px;line-height:15.12px;font-family:'Liberation Serif', 'Noto Serif CJK SC', serif;"><span style="display:inline-block;transform:scaleY(0.9);transform-origin:50% 60%;-webkit-text-stroke:0.2px #111">孕</span></div>
<div class="t" style="left:537.23px;top:406.29px;font-size:12.6px;line-height:15.12px;font-family:'Liberation Serif', 'Noto Serif CJK SC', serif;"><span style="display:inline-block;transform:scaleY(0.9);transform-origin:50% 60%;-webkit-text-stroke:0.2px #111">酮</span></div>
<div class="t" style="left:552.60px;top:406.29px;font-size:12.6px;line-height:15.12px;font-family:'Liberation Serif', 'Noto Serif CJK SC', serif;">;</div>
<div class="t" style="left:557.21px;top:406.29px;font-size:12.6px;line-height:15.12px;font-family:'Liberation Serif', 'Noto Serif CJK SC', serif;">G</div>
<div class="t" style="left:570.31px;top:406.29px;font-size:12.6px;line-height:15.12px;font-family:'Liberation Serif', 'Noto Serif CJK SC', serif;"><span style="display:inline-block;transform:scaleY(0.9);transform-origin:50% 60%;-webkit-text-stroke:0.2px #111">为</span></div>
<div class="t" style="left:583.33px;top:406.29px;font-size:12.6px;line-height:15.12px;font-family:'Liberation Serif', 'Noto Serif CJK SC', serif;"><span style="display:inline-block;transform:scaleY(0.9);transform-origin:50% 60%;-webkit-text-stroke:0.2px #111">甲</span></div>
<div class="t" style="left:596.41px;top:406.29px;font-size:12.6px;line-height:15.12px;font-family:'Liberation Serif', 'Noto Serif CJK SC', serif;"><span style="display:inline-block;transform:scaleY(0.9);transform-origin:50% 60%;-webkit-text-stroke:0.2px #111">孕</span></div>
<div class="t" style="left:609.23px;top:406.29px;font-size:12.6px;line-height:15.12px;font-family:'Liberation Serif', 'Noto Serif CJK SC', serif;"><span style="display:inline-block;transform:scaleY(0.9);transform-origin:50% 60%;-webkit-text-stroke:0.2px #111">酮</span></div>
<div class="t" style="left:624.70px;top:406.29px;font-size:12.6px;line-height:15.12px;font-family:'Liberation Serif', 'Noto Serif CJK SC', serif;">;</div>
<div class="t" style="left:628.72px;top:406.29px;font-size:12.6px;line-height:15.12px;font-family:'Liberation Serif', 'Noto Serif CJK SC', serif;">H</div>
<div class="t" style="left:642.21px;top:406.29px;font-size:12.6px;line-height:15.12px;font-family:'Liberation Serif', 'Noto Serif CJK SC', serif;"><span style="display:inline-block;transform:scaleY(0.9);transform-origin:50% 60%;-webkit-text-stroke:0.2px #111">为</span></div>
<div class="t" style="left:655.95px;top:406.29px;font-size:12.6px;line-height:15.12px;font-family:'Liberation Serif', 'Noto Serif CJK SC', serif;"><span style="display:inline-block;transform:scaleY(0.9);transform-origin:50% 60%;-webkit-text-stroke:0.2px #111">黄</span></div>
<div class="t" style="left:668.88px;top:406.29px;font-size:12.6px;line-height:15.12px;font-family:'Liberation Serif', 'Noto Serif CJK SC', serif;"><span style="display:inline-block;transform:scaleY(0.9);transform-origin:50% 60%;-webkit-text-stroke:0.2px #111">体</span></div>
<div class="t" style="left:680.73px;top:406.29px;font-size:12.6px;line-height:15.12px;font-family:'Liberation Serif', 'Noto Serif CJK SC', serif;"><span style="display:inline-block;transform:scaleY(0.9);transform-origin:50% 60%;-webkit-text-stroke:0.2px #111">酮</span></div>
<div class="t" style="left:697.20px;top:406.29px;font-size:12.6px;line-height:15.12px;font-family:'Liberation Serif', 'Noto Serif CJK SC', serif;">;</div>
<div class="t" style="left:702.01px;top:406.29px;font-size:12.6px;line-height:15.12px;font-family:'Liberation Serif', 'Noto Serif CJK SC', serif;">I</div>
<div class="t" style="left:710.61px;top:406.29px;font-size:12.6px;line-height:15.12px;font-family:'Liberation Serif', 'Noto Serif CJK SC', serif;"><span style="display:inline-block;transform:scaleY(0.9);transform-origin:50% 60%;-webkit-text-stroke:0.2px #111">为</span></div>
<div class="t" style="left:723.38px;top:406.29px;font-size:12.6px;line-height:15.12px;font-family:'Liberation Serif', 'Noto Serif CJK SC', serif;"><span style="display:inline-block;transform:scaleY(0.9);transform-origin:50% 60%;-webkit-text-stroke:0.2px #111">睾</span></div>
<div class="t" style="left:736.86px;top:406.29px;font-size:12.6px;line-height:15.12px;font-family:'Liberation Serif', 'Noto Serif CJK SC', serif;"><span style="display:inline-block;transform:scaleY(0.9);transform-origin:50% 60%;-webkit-text-stroke:0.2px #111">丸</span></div>
<div class="t" style="left:748.70px;top:406.29px;font-size:12.6px;line-height:15.12px;font-family:'Liberation Serif', 'Noto Serif CJK SC', serif;"><span style="display:inline-block;transform:scaleY(0.9);transform-origin:50% 60%;-webkit-text-stroke:0.2px #111">素</span></div>
<div class="t" style="left:762.04px;top:406.29px;font-size:12.6px;line-height:15.12px;font-family:'Liberation Serif', 'Noto Serif CJK SC', serif;">.</div>
<div class="t" style="left:770.05px;top:406.29px;font-size:12.6px;line-height:15.12px;font-family:'Liberation Serif', 'Noto Serif CJK SC', serif;"><i>M</i></div>
<div class="t" style="left:780.87px;top:406.29px;font-size:12.6px;line-height:15.12px;font-family:'Liberation Serif', 'Noto Serif CJK SC', serif;"><sub><b>h , d</b></sub></div>
<div class="t" style="left:795.31px;top:406.29px;font-size:12.6px;line-height:15.12px;font-family:'Liberation Serif', 'Noto Serif CJK SC', serif;"><span style="display:inline-block;transform:scaleY(0.9);transform-origin:50% 60%;-webkit-text-stroke:0.2px #111">为</span></div>
<div class="t" style="left:5.00px;top:429.79px;font-size:12.6px;line-height:15.12px;font-family:'Liberation Serif', 'Noto Serif CJK SC', serif;"><span style="display:inline-block;transform:scaleY(0.9);transform-origin:50% 60%;-webkit-text-stroke:0.2px #111">激</span></div>
<div class="t" style="left:18.70px;top:429.79px;font-size:12.6px;line-height:15.12px;font-family:'Liberation Serif', 'Noto Serif CJK SC', serif;"><span style="display:inline-block;transform:scaleY(0.9);transform-origin:50% 60%;-webkit-text-stroke:0.2px #111">素</span></div>
<div class="t" style="left:31.30px;top:429.79px;font-size:12.6px;line-height:15.12px;font-family:'Liberation Serif', 'Noto Serif CJK SC', serif;"><span style="display:inline-block;transform:scaleY(0.9);transform-origin:50% 60%;-webkit-text-stroke:0.2px #111">的</span></div>
<div class="t" style="left:44.80px;top:429.79px;font-size:12.6px;line-height:15.12px;font-family:'Liberation Serif', 'Noto Serif CJK SC', serif;"><span style="display:inline-block;transform:scaleY(0.9);transform-origin:50% 60%;-webkit-text-stroke:0.2px #111">日</span></div>
<div class="t" style="left:57.54px;top:429.79px;font-size:12.6px;line-height:15.12px;font-family:'Liberation Serif', 'Noto Serif CJK SC', serif;"><span style="display:inline-block;transform:scaleY(0.9);transform-origin:50% 60%;-webkit-text-stroke:0.2px #111">去</span></div>
<div class="t" style="left:69.39px;top:429.79px;font-size:12.6px;line-height:15.12px;font-family:'Liberation Serif', 'Noto Serif CJK SC', serif;"><span style="display:inline-block;transform:scaleY(0.9);transform-origin:50% 60%;-webkit-text-stroke:0.2px #111">除</span></div>
<div class="t" style="left:82.06px;top:429.79px;font-size:12.6px;line-height:15.12px;font-family:'Liberation Serif', 'Noto Serif CJK SC', serif;"><span style="display:inline-block;transform:scaleY(0.9);transform-origin:50% 60%;-webkit-text-stroke:0.2px #111">通</span></div>
<div class="t" style="left:94.88px;top:429.79px;font-size:12.6px;line-height:15.12px;font-family:'Liberation Serif', 'Noto Serif CJK SC', serif;"><span style="display:inline-block;transform:scaleY(0.9);transform-origin:50% 60%;-webkit-text-stroke:0.2px #111">量</span></div>
<div class="t" style="left:111.20px;top:429.79px;font-size:12.6px;line-height:15.12px;font-family:'Liberation Serif', 'Noto Serif CJK SC', serif;">;</div>
<div class="t" style="left:117.95px;top:429.79px;font-size:12.6px;line-height:15.12px;font-family:'Liberation Serif', 'Noto Serif CJK SC', serif;"><i>M</i></div>
<div class="t" style="left:128.93px;top:429.79px;font-size:12.6px;line-height:15.12px;font-family:'Liberation Serif', 'Noto Serif CJK SC', serif;"><sub><b>p , d</b></sub></div>
<div class="t" style="left:143.81px;top:429.79px;font-size:12.6px;line-height:15.12px;font-family:'Liberation Serif', 'Noto Serif CJK SC', serif;"><span style="display:inline-block;transform:scaleY(0.9);transform-origin:50% 60%;-webkit-text-stroke:0.2px #111">为</span></div>
<div class="t" style="left:156.71px;top:429.79px;font-size:12.6px;line-height:15.12px;font-family:'Liberation Serif', 'Noto Serif CJK SC', serif;"><span style="display:inline-block;transform:scaleY(0.9);transform-origin:50% 60%;-webkit-text-stroke:0.2px #111">常</span></div>
<div class="t" style="left:169.49px;top:429.79px;font-size:12.6px;line-height:15.12px;font-family:'Liberation Serif', 'Noto Serif CJK SC', serif;"><span style="display:inline-block;transform:scaleY(0.9);transform-origin:50% 60%;-webkit-text-stroke:0.2px #111">规</span></div>
<div class="t" style="left:182.93px;top:429.79px;font-size:12.6px;line-height:15.12px;font-family:'Liberation Serif', 'Noto Serif CJK SC', serif;"><span style="display:inline-block;transform:scaleY(0.9);transform-origin:50% 60%;-webkit-text-stroke:0.2px #111">污</span></div>
<div class="t" style="left:195.70px;top:429.79px;font-size:12.6px;line-height:15.12px;font-family:'Liberation Serif', 'Noto Serif CJK SC', serif;"><span style="display:inline-block;transform:scaleY(0.9);transform-origin:50% 60%;-webkit-text-stroke:0.2px #111">染</span></div>
<div class="t" style="left:209.13px;top:429.79px;font-size:12.6px;line-height:15.12px;font-family:'Liberation Serif', 'Noto Serif CJK SC', serif;"><span style="display:inline-block;transform:scaleY(0.9);transform-origin:50% 60%;-webkit-text-stroke:0.2px #111">物</span></div>
<div class="t" style="left:223.00px;top:429.79px;font-size:12.6px;line-height:15.12px;font-family:'Liberation Serif', 'Noto Serif CJK SC', serif;"><span style="display:inline-block;transform:scaleY(0.9);transform-origin:50% 60%;-webkit-text-stroke:0.2px #111">的</span></div>
<div class="t" style="left:236.80px;top:429.79px;font-size:12.6px;line-height:15.12px;font-family:'Liberation Serif', 'Noto Serif CJK SC', serif;"><span style="display:inline-block;transform:scaleY(0.9);transform-origin:50% 60%;-webkit-text-stroke:0.2px #111">日</span></div>
<div class="t" style="left:249.74px;top:429.79px;font-size:12.6px;line-height:15.12px;font-family:'Liberation Serif', 'Noto Serif CJK SC', serif;"><span style="display:inline-block;transform:scaleY(0.9);transform-origin:50% 60%;-webkit-text-stroke:0.2px #111">去</span></div>
<div class="t" style="left:262.29px;top:429.79px;font-size:12.6px;line-height:15.12px;font-family:'Liberation Serif', 'Noto Serif CJK SC', serif;"><span style="display:inline-block;transform:scaleY(0.9);transform-origin:50% 60%;-webkit-text-stroke:0.2px #111">除</span></div>
<div class="t" style="left:275.86px;top:429.79px;font-size:12.6px;line-height:15.12px;font-family:'Liberation Serif', 'Noto Serif CJK SC', serif;"><span style="display:inline-block;transform:scaleY(0.9);transform-origin:50% 60%;-webkit-text-stroke:0.2px #111">通</span></div>
<div class="t" style="left:289.18px;top:429.79px;font-size:12.6px;line-height:15.12px;font-family:'Liberation Serif', 'Noto Serif CJK SC', serif;"><span style="display:inline-block;transform:scaleY(0.9);transform-origin:50% 60%;-webkit-text-stroke:0.2px #111">量</span></div>
<div class="t" style="left:302.94px;top:429.79px;font-size:12.6px;line-height:15.12px;font-family:'Liberation Serif', 'Noto Serif CJK SC', serif;">.</div>
</body></html>
